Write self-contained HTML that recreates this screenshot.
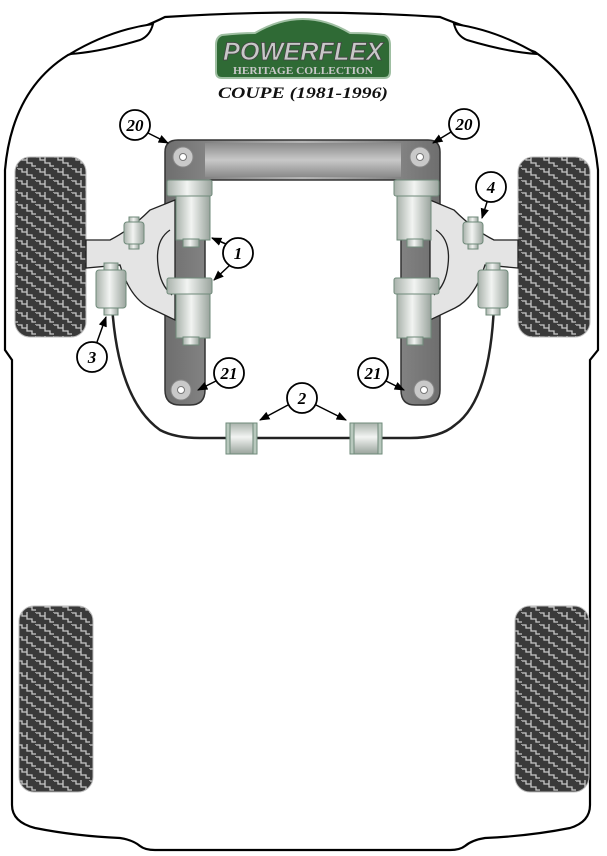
<!DOCTYPE html>
<html><head><meta charset="utf-8"><style>
html,body{margin:0;padding:0;background:#fff;}
svg{display:block;}
.n{font-family:"Liberation Serif",serif;font-weight:bold;font-style:italic;font-size:17px;text-anchor:middle;}
</style></head><body>
<svg width="607" height="856" viewBox="0 0 607 856" xmlns="http://www.w3.org/2000/svg">
<defs>
<pattern id="tread" width="18" height="12" patternUnits="userSpaceOnUse">
<rect width="18" height="12" fill="#3a3a3a"/>
<path d="M0 1 H4 V4 H9 V7 H14 V10 H18 M9 0 V4 M18 0 V1" stroke="#c8c8c8" stroke-width="1.3" fill="none"/>
</pattern>
<linearGradient id="frame" x1="0" x2="1" y1="0" y2="0">
<stop offset="0" stop-color="#6e6e6e"/><stop offset="0.5" stop-color="#b5b5b5"/><stop offset="1" stop-color="#6e6e6e"/>
</linearGradient>
<linearGradient id="bar" x1="0" x2="0" y1="0" y2="1">
<stop offset="0" stop-color="#8a8a8a"/><stop offset="0.5" stop-color="#c8c8c8"/><stop offset="1" stop-color="#8a8a8a"/>
</linearGradient>
<linearGradient id="bush" x1="0" x2="1" y1="0" y2="0">
<stop offset="0" stop-color="#a9b2ab"/><stop offset="0.45" stop-color="#f2f4f2"/><stop offset="1" stop-color="#9aa49d"/>
</linearGradient>
<linearGradient id="bushv" x1="0" x2="0" y1="0" y2="1">
<stop offset="0" stop-color="#a9b2ab"/><stop offset="0.45" stop-color="#f2f4f2"/><stop offset="1" stop-color="#9aa49d"/>
</linearGradient>
<marker id="ar" viewBox="0 0 10 10" refX="9" refY="5" markerWidth="7" markerHeight="7" orient="auto"><path d="M0 1 L10 5 L0 9 z" fill="#000"/></marker>
</defs>

<path d="M165 17 Q303 8 440 17 Q452 22 470 28 L535 52 Q590 90 598 170 L598 350 L590 360 L590 805 Q590 822 570 828 Q530 836 485 838 Q472 840 465 846 Q460 850 450 850 L155 850 Q145 850 140 846 Q133 840 120 838 Q75 836 35 828 Q12 822 12 805 L12 360 L5 350 L5 170 Q12 90 68 55 L140 28 Q155 22 165 17 Z" fill="#fff" stroke="#000" stroke-width="2.2"/>
<path d="M70 54 Q110 30 153 24 Q150 36 140 40 Q100 52 70 54 Z" fill="#fff" stroke="#000" stroke-width="2"/>
<path d="M537 54 Q497 30 454 24 Q457 36 467 40 Q507 52 537 54 Z" fill="#fff" stroke="#000" stroke-width="2"/>

<rect x="15" y="157" width="71" height="180" rx="15" fill="url(#tread)" stroke="#bbb"/>
<rect x="518" y="157" width="72" height="180" rx="15" fill="url(#tread)" stroke="#bbb"/>
<rect x="19" y="606" width="74" height="186" rx="15" fill="url(#tread)" stroke="#bbb"/>
<rect x="515" y="606" width="74" height="186" rx="15" fill="url(#tread)" stroke="#bbb"/>

<path d="M112 305 Q118 400 160 430 Q175 438 200 438 L410 438 Q440 438 455 425 Q490 400 494 305" fill="none" stroke="#222" stroke-width="2.5"/>

<path d="M178 140 L428 140 Q440 140 440 152 L440 390 Q440 405 425 405 L415 405 Q401 405 401 390 L401 185 L396 180 L210 180 L205 185 L205 390 Q205 405 190 405 L180 405 Q165 405 165 390 L165 152 Q165 140 178 140 Z" fill="url(#frame)" stroke="#333" stroke-width="1.5"/>
<rect x="205" y="143" width="196" height="34" fill="url(#bar)"/>
<circle cx="183" cy="157" r="10" fill="#c9c9c9" stroke="#888"/><circle cx="183" cy="157" r="3.5" fill="#fff" stroke="#777"/>
<circle cx="420" cy="157" r="10" fill="#c9c9c9" stroke="#888"/><circle cx="420" cy="157" r="3.5" fill="#fff" stroke="#777"/>
<circle cx="181" cy="390" r="10" fill="#c9c9c9" stroke="#888"/><circle cx="181" cy="390" r="3.5" fill="#fff" stroke="#777"/>
<circle cx="424" cy="390" r="10" fill="#c9c9c9" stroke="#888"/><circle cx="424" cy="390" r="3.5" fill="#fff" stroke="#777"/>

<path d="M86 240 L110 240 Q130 230 150 210 L175 200 L175 320 L150 308 Q130 298 120 265 L86 268 Z" fill="#e4e4e4" stroke="#222" stroke-width="1.3"/>
<path d="M170 230 Q155 240 158 265 Q160 285 172 295" fill="none" stroke="#222" stroke-width="1.3"/>
<path d="M518 240 L494 240 Q474 230 454 210 L430 200 L430 320 L455 308 Q475 298 485 265 L518 268 Z" fill="#e4e4e4" stroke="#222" stroke-width="1.3"/>
<path d="M436 230 Q451 240 448 265 Q446 285 434 295" fill="none" stroke="#222" stroke-width="1.3"/>

<g stroke="#6f8a7a" stroke-width="1">
<rect x="176" y="195" width="34" height="45" fill="url(#bush)"/><rect x="167" y="180" width="45" height="16" rx="2" fill="url(#bush)"/><rect x="183" y="239" width="16" height="8" fill="url(#bush)"/>
<rect x="176" y="293" width="34" height="45" fill="url(#bush)"/><rect x="167" y="278" width="45" height="16" rx="2" fill="url(#bush)"/><rect x="183" y="337" width="16" height="8" fill="url(#bush)"/>
<rect x="397" y="195" width="34" height="45" fill="url(#bush)"/><rect x="394" y="180" width="45" height="16" rx="2" fill="url(#bush)"/><rect x="407" y="239" width="16" height="8" fill="url(#bush)"/>
<rect x="397" y="293" width="34" height="45" fill="url(#bush)"/><rect x="394" y="278" width="45" height="16" rx="2" fill="url(#bush)"/><rect x="407" y="337" width="16" height="8" fill="url(#bush)"/>
<rect x="124" y="222" width="20" height="22" rx="3" fill="url(#bush)"/><rect x="129" y="217" width="10" height="5" fill="url(#bush)"/><rect x="129" y="244" width="10" height="5" fill="url(#bush)"/>
<rect x="463" y="222" width="20" height="22" rx="3" fill="url(#bush)"/><rect x="468" y="217" width="10" height="5" fill="url(#bush)"/><rect x="468" y="244" width="10" height="5" fill="url(#bush)"/>
<rect x="96" y="270" width="30" height="38" rx="3" fill="url(#bush)"/><rect x="104" y="263" width="14" height="7" fill="url(#bush)"/><rect x="104" y="308" width="14" height="7" fill="url(#bush)"/>
<rect x="478" y="270" width="30" height="38" rx="3" fill="url(#bush)"/><rect x="486" y="263" width="14" height="7" fill="url(#bush)"/><rect x="486" y="308" width="14" height="7" fill="url(#bush)"/>
<rect x="226" y="423" width="31" height="31" fill="url(#bushv)"/><rect x="226" y="423" width="4" height="31" fill="#b8c8bd"/><rect x="253" y="423" width="4" height="31" fill="#b8c8bd"/>
<rect x="350" y="423" width="32" height="31" fill="url(#bushv)"/><rect x="350" y="423" width="4" height="31" fill="#b8c8bd"/><rect x="378" y="423" width="4" height="31" fill="#b8c8bd"/>
</g>

<path d="M222 35 Q240 33 255 33 Q303 5 350 33 Q370 33 384 35 Q390 37 390 45 L390 72 Q390 78 384 78 L222 78 Q216 78 216 72 L216 45 Q216 37 222 35 Z" fill="#2f6a35" stroke="#9fbfa2" stroke-width="2"/>
<text x="303" y="60" font-family="Liberation Sans,sans-serif" font-weight="bold" font-style="italic" font-size="25" fill="#c8c8c8" stroke="#444" stroke-width="0.8" text-anchor="middle" textLength="160" lengthAdjust="spacingAndGlyphs">POWERFLEX</text>
<text x="303" y="74" font-family="Liberation Serif,serif" font-weight="bold" font-size="10" fill="#c8c8c8" text-anchor="middle" textLength="140" lengthAdjust="spacingAndGlyphs">HERITAGE COLLECTION</text>
<text x="303" y="98" font-family="Liberation Serif,serif" font-weight="bold" font-style="italic" font-size="16" fill="#111" text-anchor="middle" textLength="170" lengthAdjust="spacingAndGlyphs">COUPE (1981-1996)</text>

<g fill="#fff" stroke="#000" stroke-width="1.8">
<circle cx="135" cy="125" r="15"/><circle cx="464" cy="124" r="15"/>
<circle cx="238" cy="253" r="15"/><circle cx="491" cy="187" r="15"/>
<circle cx="92" cy="357" r="15"/><circle cx="229" cy="373" r="15"/>
<circle cx="373" cy="373" r="15"/><circle cx="302" cy="398" r="15"/>
</g>
<g stroke="#000" stroke-width="1.5" fill="none" marker-end="url(#ar)">
<line x1="148" y1="133" x2="168" y2="143"/>
<line x1="451" y1="132" x2="433" y2="143"/>
<line x1="226" y1="244" x2="212" y2="238"/>
<line x1="230" y1="265" x2="214" y2="280"/>
<line x1="487" y1="202" x2="482" y2="218"/>
<line x1="97" y1="342" x2="106" y2="317"/>
<line x1="216" y1="381" x2="198" y2="390"/>
<line x1="386" y1="381" x2="404" y2="390"/>
<line x1="288" y1="405" x2="260" y2="420"/>
<line x1="316" y1="405" x2="346" y2="420"/>
</g>
<g fill="#000">
<text class="n" x="135" y="131">20</text><text class="n" x="464" y="130">20</text>
<text class="n" x="238" y="259">1</text><text class="n" x="491" y="193">4</text>
<text class="n" x="92" y="363">3</text><text class="n" x="229" y="379">21</text>
<text class="n" x="373" y="379">21</text><text class="n" x="302" y="404">2</text>
</g>
</svg>
</body></html>
